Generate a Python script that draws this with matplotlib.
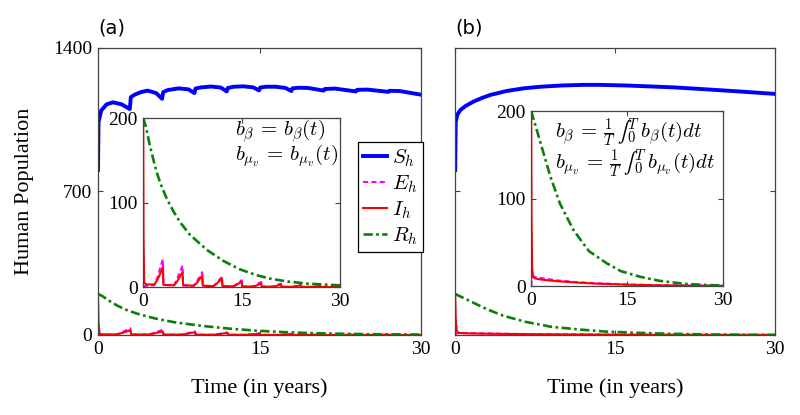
import matplotlib
matplotlib.use("Agg")
import matplotlib.pyplot as plt

plt.rcParams['font.family'] = ['Liberation Serif', 'DejaVu Serif']
plt.rcParams['mathtext.fontset'] = 'cm'

# ---------------- data: panel (a) periodic coefficients ----------------
ta_S = [0, 0.05, 0.3, 0.8, 1.4, 2.2, 2.95, 3.05, 3.4, 4.0, 4.6, 5.4, 5.95, 6.05, 6.5, 7.5, 8.4, 8.95,
        9.05, 9.6, 10.5, 11.4, 11.95, 12.05, 12.6, 13.5, 14.4, 14.95, 15.05, 15.6, 16.5, 17.4, 17.95,
        18.05, 18.6, 19.5, 20.95, 21.05, 22, 23.95, 24.05, 25, 26.95, 27.05, 28, 30]
Sa = [805, 1040, 1095, 1125, 1135, 1125, 1102, 1160, 1172, 1185, 1192, 1180, 1152, 1185, 1195, 1203,
      1198, 1180, 1202, 1208, 1212, 1207, 1188, 1205, 1211, 1213, 1208, 1193, 1207, 1211, 1211, 1205,
      1190, 1203, 1206, 1205, 1192, 1200, 1202, 1188, 1196, 1197, 1186, 1191, 1190, 1172]

ta_EI = [0, 0.05, 0.15, 0.5, 1.7, 2.2, 2.6, 3.0, 3.08, 4.7, 5.2, 5.6, 6.0, 6.08, 7.7, 8.2, 8.6, 9.0,
         9.08, 10.7, 11.2, 11.6, 12.0, 12.08, 13.7, 14.2, 14.6, 15.0, 15.08, 16.7, 17.2, 17.6, 18.0,
         18.08, 19.7, 20.2, 20.6, 21.0, 21.08, 22.7, 23.2, 23.6, 24.0, 24.08, 25.7, 26.2, 26.6, 27.0,
         27.08, 30]
Ea = [0, 0.5, 1, 1.5, 2, 12, 23, 33, 2.5, 2, 10, 18, 25.5, 2, 1.5, 7, 12, 17.5, 1.5, 1, 5, 8.5, 12, 1,
      0.8, 3, 5.5, 8, 0.6, 0.5, 2.5, 4.5, 6, 0.5, 0.4, 1.5, 3, 4, 0.3, 0.2, 1, 2, 2.5, 0.2, 0.2, 0.6, 1,
      1.5, 0.1, 0.1]
Ia = [200, 60, 5, 3, 3, 9, 16, 23.5, 2.5, 2, 7, 12.5, 17.5, 2, 1.5, 5, 9.5, 13.5, 1.5, 1, 4, 7, 10,
      1, 0.8, 2.5, 4.5, 6.5, 0.6, 0.5, 1.5, 3, 4, 0.4, 0.3, 1, 2, 3, 0.3, 0.2, 0.7, 1.4, 2, 0.2, 0.2,
      0.4, 0.8, 1, 0.1, 0.1]

ta_R = [0, 0.4, 1.0, 1.8, 2.55, 3.57, 4.58, 5.6, 7.1, 9.7, 12.2, 14.7, 17.3, 19.3, 22, 25, 30]
Ra = [200, 190, 168, 143, 124, 105, 90, 77, 62, 44, 31, 21, 14, 10, 6.5, 4, 2]

# ---------------- data: panel (b) averaged coefficients ----------------
tb_S = [0, 0.05, 0.2, 0.5, 1, 1.7, 2.5, 3.3, 4.8, 6.4, 8, 10, 12, 13.6, 16, 18, 20.4, 23, 26, 28, 30]
Sb = [805, 1040, 1075, 1098, 1118, 1138, 1156, 1171, 1190, 1203, 1211, 1217, 1220, 1220, 1217, 1213,
      1208, 1200, 1190, 1183, 1176]

tb_EI = [0, 0.05, 0.15, 0.3, 0.6, 1, 2, 4, 7, 10, 15, 20, 25, 30]
Eb = [0, 4, 9, 11, 10.5, 9.8, 8.5, 6.5, 4.5, 3.2, 1.8, 1, 0.5, 0.3]
Ib = [200, 80, 20, 10, 8.8, 8, 7, 5.5, 4, 2.8, 1.5, 0.8, 0.4, 0.2]

tb_R = [0, 0.4, 1.4, 3, 4.5, 6.6, 9, 11.8, 14, 17, 20, 24, 27.5, 30]
Rb = [200, 190, 165, 125, 94, 64, 40, 26, 17, 10.6, 6, 2.5, 1.1, 0.6]

xticks = [0, 15, 30]
yticks_main = [0, 700, 1400]
yticks_inset = [0, 100, 200]
labels = [r'$S_h$', r'$E_h$', r'$I_h$', r'$R_h$']

COL_S = '#0000ff'
COL_E = '#ff00ff'
COL_I = '#ff0000'
COL_R = '#0a800a'
SPINE = '#444444'

fig = plt.figure(figsize=(8, 4.15), dpi=100)


def style(ax, yt, ylim):
    ax.set_xlim(0, 30)
    ax.set_ylim(*ylim)
    ax.set_xticks(xticks)
    ax.set_yticks(yt)
    ax.tick_params(direction='in', top=True, right=True, length=3.5, width=0.8,
                   labelsize=14, color=SPINE, pad=4)
    for s in ax.spines.values():
        s.set_color(SPINE)
        s.set_linewidth(0.9)


def draw(ax, tS, S, tEI, E, I, tR, R, lwS=2.8):
    hS, = ax.plot(tS, S, color=COL_S, lw=lwS, solid_joinstyle='round')
    hE, = ax.plot(tEI, E, color=COL_E, lw=1.5, ls=(0, (2.5, 1.5)))
    hI, = ax.plot(tEI, I, color=COL_I, lw=1.5)
    hR, = ax.plot(tR, R, color=COL_R, lw=1.9, ls=(0, (3.5, 1.3, 1, 1.3)))
    return [hS, hE, hI, hR]


# ---------------- panel (a) ----------------
axA = fig.add_axes([0.1225, 0.1928, 0.404, 0.6916])
handles = draw(axA, ta_S, Sa, ta_EI, Ea, Ia, ta_R, Ra)
style(axA, yticks_main, (0, 1400))
axA.set_ylabel('Human Population', fontsize=16, labelpad=14)
axA.set_xlabel('Time (in years)', fontsize=16, labelpad=15)
axA.text(0.0, 1.035, '(a)', transform=axA.transAxes, fontsize=14, family='DejaVu Sans',
         ha='left', va='bottom')
leg = axA.legend(handles, labels, loc='upper left', bbox_to_anchor=(0.803, 0.672),
                 borderaxespad=0, fancybox=False, framealpha=1, edgecolor='black',
                 fontsize=15, handlelength=1.15, handletextpad=0.25, labelspacing=0.22,
                 borderpad=0.25)
leg.get_frame().set_linewidth(0.9)

insA = fig.add_axes([0.179, 0.3084, 0.246, 0.407])
draw(insA, ta_S, Sa, ta_EI, Ea, Ia, ta_R, Ra)
style(insA, yticks_inset, (0, 200))
insA.text(0.466, 0.925, r'$b_\beta\,=\,b_\beta(t)$', transform=insA.transAxes,
          fontsize=15, ha='left', va='center')
insA.text(0.466, 0.78, r'$b_{\mu_v}\,=\,b_{\mu_v}(t)$', transform=insA.transAxes,
          fontsize=15, ha='left', va='center')

# ---------------- panel (b) ----------------
axB = fig.add_axes([0.569, 0.1928, 0.4, 0.6916])
draw(axB, tb_S, Sb, tb_EI, Eb, Ib, tb_R, Rb)
style(axB, yticks_main, (0, 1400))
axB.set_yticklabels([])
axB.set_xlabel('Time (in years)', fontsize=16, labelpad=15)
axB.text(0.0, 1.035, '(b)', transform=axB.transAxes, fontsize=14, family='DejaVu Sans',
         ha='left', va='bottom')

insB = fig.add_axes([0.664, 0.3108, 0.24, 0.4217])
draw(insB, tb_S, Sb, tb_EI, Eb, Ib, tb_R, Rb)
style(insB, yticks_inset, (0, 200))
insB.text(0.122, 0.874, r'$b_\beta\,=\,\frac{1}{T}\,∫_0^T\, b_\beta(t)dt$',
          transform=insB.transAxes, fontsize=15, ha='left', va='center')
insB.text(0.122, 0.70, r'$b_{\mu_v}\,=\,\frac{1}{T}\,∫_0^T\, b_{\mu_v}(t)dt$',
          transform=insB.transAxes, fontsize=15, ha='left', va='center')

fig.savefig('out.png', dpi=100)
